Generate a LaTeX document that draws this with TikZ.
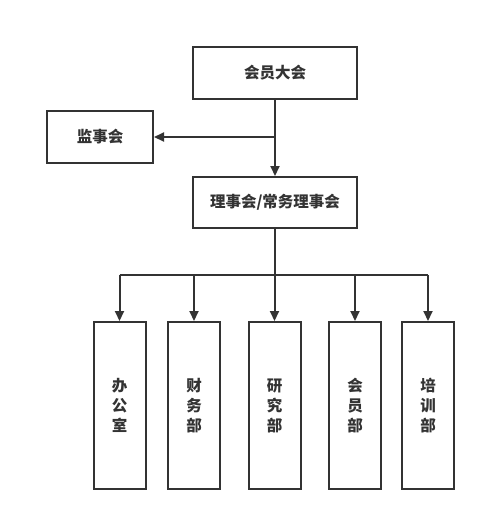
\documentclass[tikz,border=0pt]{standalone}
\usepackage{fontspec}
\newfontfamily\cjk{Noto Sans CJK SC}
\usetikzlibrary{arrows.meta}
\definecolor{ink}{HTML}{333333}

\begin{document}
\begin{tikzpicture}[x=1pt,y=-1pt,
  box/.style={draw=ink,line width=2pt,inner sep=0pt,text=ink,
    font=\cjk\bfseries\fontsize{15.5}{20}\selectfont,align=center},
  wide/.style={box,minimum width=164pt,minimum height=52pt},
  dept/.style={box,minimum width=52pt,minimum height=167pt},
  link/.style={draw=ink,line width=2pt},
  arr/.style={link,-{Triangle[length=10pt,width=9pt]}}]
\useasboundingbox (0,0) rectangle (486,520);
\node [wide] (assembly) at (275,73) {会员大会};
\node [box,minimum width=106pt,minimum height=52pt] (supervisors) at (100,137) {监事会};
\node [wide,minimum height=51pt] (board) at (275,202.5) {理事会/常务理事会};
\node [dept] (office) at (119.5,405.5) {办\\公\\室};
\node [dept] (finance) at (194,405.5) {财\\务\\部};
\node [dept] (research) at (274.5,405.5) {研\\究\\部};
\node [dept] (members) at (355,405.5) {会\\员\\部};
\node [dept] (training) at (428,405.5) {培\\训\\部};
\coordinate (bus) at (275,275);
\draw [arr] (assembly.south) -- (board.north);
\draw [arr] (supervisors.east -| assembly.south) -- (supervisors.east);
\draw [link] (board.south) -- (bus);
\draw [link] (bus -| office.north) -- (bus -| training.north);
\foreach \d in {office,finance,research,members,training}
  \draw [arr] (bus -| \d.north) -- (\d.north);
\end{tikzpicture}
\end{document}
